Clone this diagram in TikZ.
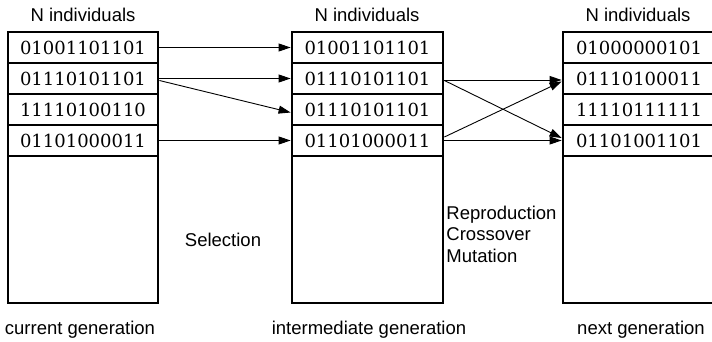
\documentclass[tikz,border=0pt]{standalone}
\usepackage{fontspec}
\setmainfont{Liberation Sans}
\newfontfamily\bitfont{DejaVu Serif}
\usetikzlibrary{arrows.meta}
\begin{document}
\begin{tikzpicture}[x=1pt,y=-1pt,line width=0.9pt,-{Triangle[length=12pt,width=8pt]}]
	\tikzstyle{cell}=[rectangle,draw,line width=2.8pt,minimum height=31pt,inner sep=0pt,font=\bitfont\fontsize{18}{21}\selectfont]
	\tikzstyle{rest}=[rectangle,draw,line width=2.8pt,minimum height=147pt,inner sep=0pt]
	\tikzstyle{caption}=[font=\fontsize{18.5}{21.5}\selectfont]
	\useasboundingbox (0,0) rectangle (712,342);

	% current generation
	\node[caption] (HC) at (83,15) {N individuals};
	\node[cell, minimum width=150pt] (C1) at (83,47.5) {01001101101};
	\node[cell, minimum width=150pt] (C2) at (83,78.5) {01110101101};
	\node[cell, minimum width=150pt] (C3) at (83,109.5) {11110100110};
	\node[cell, minimum width=150pt] (C4) at (83,140.5) {01101000011};
	\node[rest, minimum width=150pt] (C5) at (83,229.5) {};
	\node[caption] (LC) at (80,330) {current generation};

	% intermediate generation
	\node[caption] (HI) at (367,15) {N individuals};
	\node[cell, minimum width=151pt] (I1) at (367.5,47.5) {01001101101};
	\node[cell, minimum width=151pt] (I2) at (367.5,78.5) {01110101101};
	\node[cell, minimum width=151pt] (I3) at (367.5,109.5) {01110101101};
	\node[cell, minimum width=151pt] (I4) at (367.5,140.5) {01101000011};
	\node[rest, minimum width=151pt] (I5) at (367.5,229.5) {};
	\node[caption] (LI) at (369,330) {intermediate generation};

	% next generation
	\node[caption] (HN) at (638,15) {N individuals};
	\node[cell, minimum width=152pt] (N1) at (639,47.5) {01000000101};
	\node[cell, minimum width=152pt] (N2) at (639,78.5) {01110100011};
	\node[cell, minimum width=152pt] (N3) at (639,109.5) {11110111111};
	\node[cell, minimum width=152pt] (N4) at (639,140.5) {01101001101};
	\node[rest, minimum width=152pt] (N5) at (639,229.5) {};
	\node[caption] (LN) at (641,330) {next generation};

	\node[caption] (S) at (223,240) {Selection};
	\node[caption, anchor=west, align=left, inner sep=1pt] (R) at (445,234) {Reproduction\\Crossover\\Mutation};

	% selection
	\draw (C1) -- (I1);
	\draw (C2) -- (I2);
	\draw ([yshift=-2pt]C2.east) -- ([yshift=-3pt]I3.west);
	\draw (C4) -- (I4);

	% reproduction
	\draw ([yshift=-1.5pt]I2.east) -- ([yshift=-1.5pt]N2.west);
	\draw ([yshift=-2pt]I2.east) -- ([yshift=2.5pt]N4.west);
	\draw ([yshift=3.5pt]I4.east) -- ([yshift=-3pt]N2.west);
	\draw (I4) -- (N4);
\end{tikzpicture}
\end{document}
